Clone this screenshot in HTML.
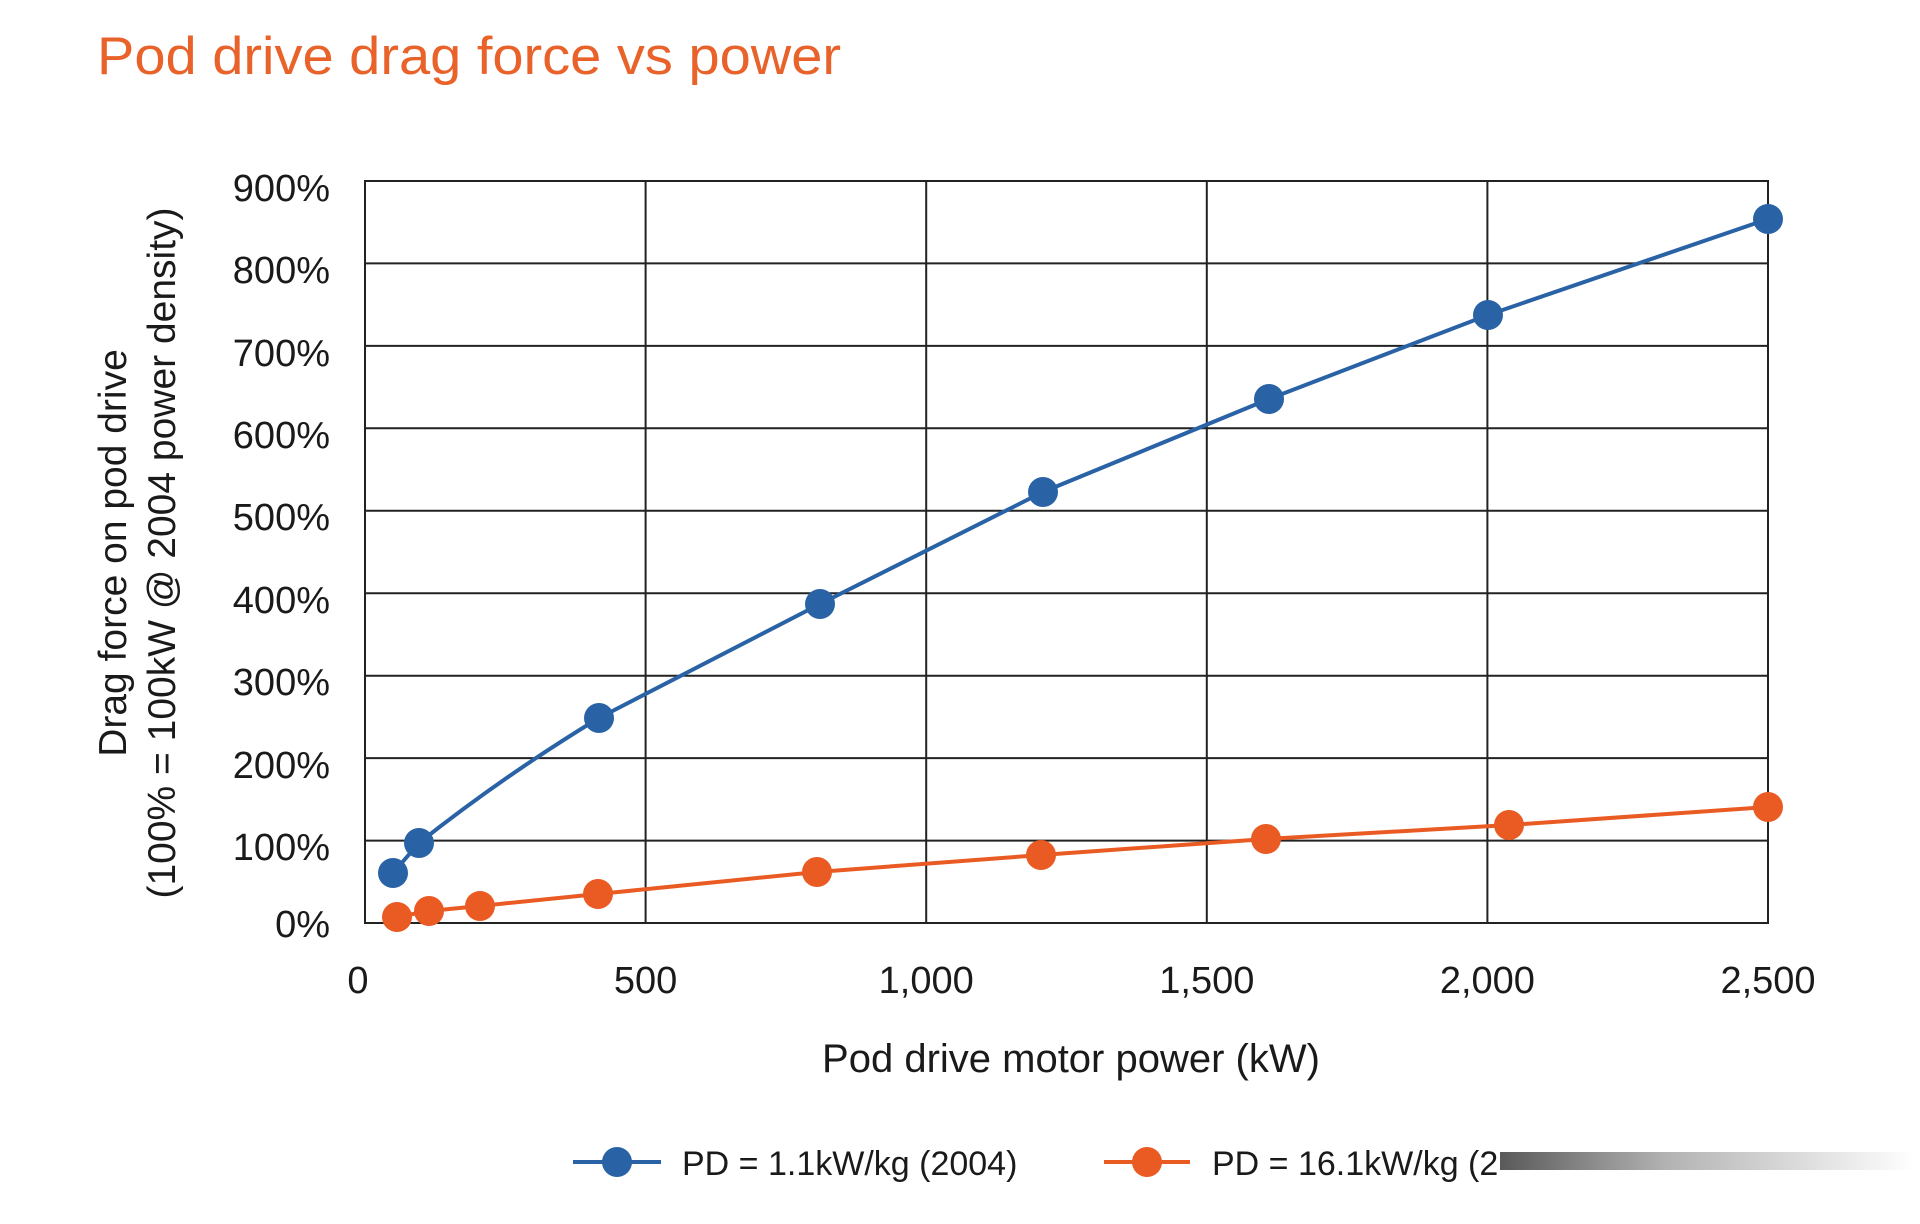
<!DOCTYPE html>
<html><head><meta charset="utf-8"><style>html,body{margin:0;padding:0;background:#fff;}svg{display:block}</style></head>
<body>
<svg width="1920" height="1224" viewBox="0 0 1920 1224" xmlns="http://www.w3.org/2000/svg" font-family="Liberation Sans, Arial, sans-serif">
<defs>
<linearGradient id="smear" x1="0" x2="1" y1="0" y2="0">
<stop offset="0" stop-color="#222"/><stop offset="0.4" stop-color="#999"/><stop offset="1" stop-color="#fff"/>
</linearGradient>
</defs>
<text x="97" y="74" font-size="53" fill="#e8622a" textLength="744" lengthAdjust="spacingAndGlyphs">Pod drive drag force vs power</text>
<g stroke="#222" stroke-width="2" fill="none">
<rect x="365" y="181" width="1403" height="742"/>
<line x1="365" y1="263.4" x2="1768" y2="263.4"/><line x1="365" y1="345.9" x2="1768" y2="345.9"/>
<line x1="365" y1="428.3" x2="1768" y2="428.3"/><line x1="365" y1="510.8" x2="1768" y2="510.8"/>
<line x1="365" y1="593.2" x2="1768" y2="593.2"/><line x1="365" y1="675.7" x2="1768" y2="675.7"/>
<line x1="365" y1="758.1" x2="1768" y2="758.1"/><line x1="365" y1="840.6" x2="1768" y2="840.6"/>
<line x1="645.6" y1="181" x2="645.6" y2="923"/><line x1="926.2" y1="181" x2="926.2" y2="923"/>
<line x1="1206.8" y1="181" x2="1206.8" y2="923"/><line x1="1487.4" y1="181" x2="1487.4" y2="923"/>
</g>
<g font-size="38" fill="#1a1a1a" text-anchor="end">
<text x="330" y="201">900%</text><text x="330" y="283">800%</text><text x="330" y="366">700%</text>
<text x="330" y="448">600%</text><text x="330" y="530">500%</text><text x="330" y="613">400%</text>
<text x="330" y="695">300%</text><text x="330" y="778">200%</text><text x="330" y="860">100%</text>
<text x="330" y="937">0%</text>
</g>
<g font-size="38" fill="#1a1a1a" text-anchor="middle">
<text x="358" y="993">0</text><text x="645.6" y="993">500</text><text x="926.2" y="993">1,000</text>
<text x="1206.8" y="993">1,500</text><text x="1487.4" y="993">2,000</text><text x="1768" y="993">2,500</text>
</g>
<text x="1071" y="1072" font-size="40" fill="#1a1a1a" text-anchor="middle">Pod drive motor power (kW)</text>
<g font-size="39" fill="#1a1a1a" text-anchor="middle">
<text transform="translate(126,553) rotate(-90)">Drag force on pod drive</text>
<text transform="translate(175,553) rotate(-90)">(100% = 100kW @ 2004 power density)</text>
</g>
<g stroke="#2a62a6" stroke-width="4" fill="none">
<path d="M393,873 L419,843 Q505,775 599,718 L820,604 L1043,492 L1269,399 L1488,315 L1768,219"/>
</g>
<g fill="#2a62a6">
<circle cx="393" cy="873" r="15"/><circle cx="419" cy="843" r="15"/><circle cx="599" cy="718" r="15"/>
<circle cx="820" cy="604" r="15"/><circle cx="1043" cy="492" r="15"/><circle cx="1269" cy="399" r="15"/>
<circle cx="1488" cy="315" r="15"/><circle cx="1768" cy="219" r="15"/>
</g>
<g stroke="#ea5b24" stroke-width="4" fill="none">
<polyline points="397,917 429,911 480,906 598,894 817,872 1041,855 1266,839 1509,825 1768,807"/>
</g>
<g fill="#ea5b24">
<circle cx="397" cy="917" r="15"/><circle cx="429" cy="911" r="15"/><circle cx="480" cy="906" r="15"/>
<circle cx="598" cy="894" r="15"/><circle cx="817" cy="872" r="15"/><circle cx="1041" cy="855" r="15"/>
<circle cx="1266" cy="839" r="15"/><circle cx="1509" cy="825" r="15"/><circle cx="1768" cy="807" r="15"/>
</g>
<line x1="573" y1="1162" x2="661" y2="1162" stroke="#2a62a6" stroke-width="4"/>
<circle cx="617" cy="1162" r="15" fill="#2a62a6"/>
<text x="682" y="1175" font-size="34" fill="#1a1a1a">PD = 1.1kW/kg (2004)</text>
<line x1="1104" y1="1162" x2="1190" y2="1162" stroke="#ea5b24" stroke-width="4"/>
<circle cx="1147" cy="1162" r="15" fill="#ea5b24"/>
<text x="1212" y="1175" font-size="34" fill="#1a1a1a">PD = 16.1kW/kg (2</text>
<rect x="1500" y="1152" width="415" height="18" fill="url(#smear)" opacity="0.75"/>
</svg>
</body></html>
